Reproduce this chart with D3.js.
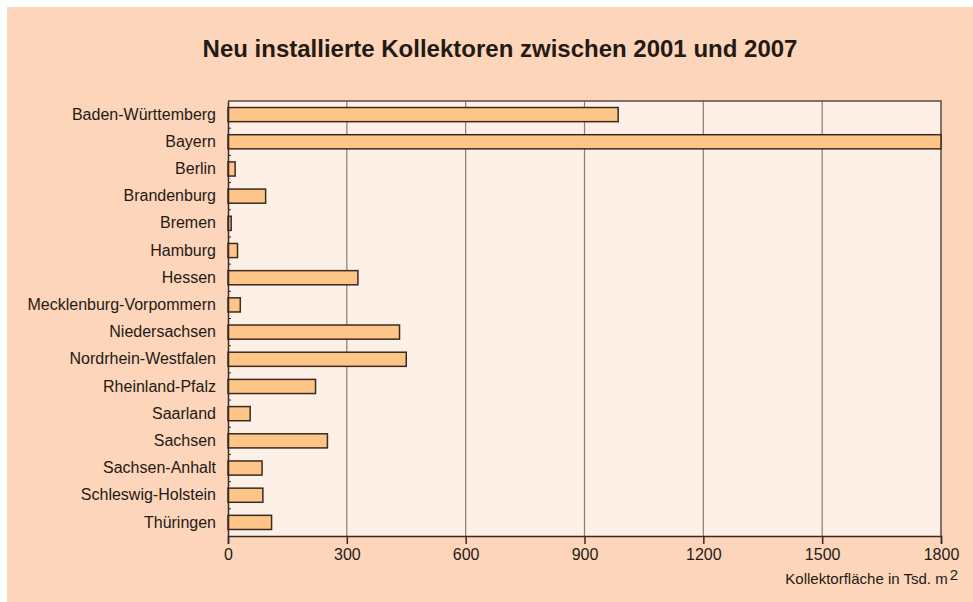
<!DOCTYPE html>
<html>
<head>
<meta charset="utf-8">
<script src="https://cdn.jsdelivr.net/npm/d3@7"></script>
<style>
  body { margin: 0; background: #fff; }
  svg { display: block; font-family: "Liberation Sans", Arial, sans-serif; }
</style>
</head>
<body>
<div id="chart"></div>
<script>
// Daten: neu installierte Kollektorfläche 2001-2007 (Tsd. m²)
const laender = ['Baden-Württemberg', 'Bayern', 'Berlin', 'Brandenburg', 'Bremen', 'Hamburg', 'Hessen',
  'Mecklenburg-Vorpommern', 'Niedersachsen', 'Nordrhein-Westfalen', 'Rheinland-Pfalz', 'Saarland',
  'Sachsen', 'Sachsen-Anhalt', 'Schleswig-Holstein', 'Thüringen'];
const flaeche = [985, 1800, 18, 95, 8, 24, 328, 31, 433, 450, 221, 56, 251, 86, 88, 110];
const xTicks = [0, 300, 600, 900, 1200, 1500, 1800];

const width = 973, height = 602;
const margin = { top: 101, right: 32, bottom: 66, left: 228 };
const w = width - margin.left - margin.right;
const h = height - margin.top - margin.bottom;
const font = '"Liberation Sans", Arial, sans-serif';

const svg = d3.select('#chart').append('svg').attr('width', width).attr('height', height);

// Hintergrund
svg.append('rect').attr('x', 7).attr('y', 7).attr('width', width - 7).attr('height', height - 7)
  .attr('fill', '#fdd5bb');

svg.append('text').attr('x', 500).attr('y', 57).attr('text-anchor', 'middle')
  .style('font-size', '24px').style('font-weight', 'bold').style('fill', '#231a14')
  .text('Neu installierte Kollektoren zwischen 2001 und 2007');

const g = svg.append('g').attr('transform', `translate(${margin.left},${margin.top})`);

const x = d3.scaleLinear().domain([0, 1800]).range([0, w]);
const y = d3.scaleBand().domain(laender).range([0, h]).paddingInner(0.48).paddingOuter(0.24);

g.append('rect').attr('width', w).attr('height', h).attr('fill', '#fdf0e6');

// Gitterlinien
g.selectAll('.grid').data(xTicks.slice(1, -1)).enter().append('line')
  .attr('x1', d => x(d)).attr('x2', d => x(d)).attr('y1', 0).attr('y2', h)
  .attr('stroke', '#8c7c72').attr('stroke-width', 1.2);

// Rahmen oben/rechts
g.append('path').attr('d', `M0,0H${w}V${h}`).attr('fill', 'none')
  .attr('stroke', '#5a4a42').attr('stroke-width', 1.5);

// Balken
g.selectAll('.bar').data(laender).enter().append('rect')
  .attr('x', 0).attr('y', d => y(d))
  .attr('width', (d, i) => x(Math.min(flaeche[i], 1800)))
  .attr('height', y.bandwidth())
  .attr('fill', '#fdc688').attr('stroke', '#3a2a22').attr('stroke-width', 1.5);

// x-Achse
const xAxis = g.append('g').attr('transform', `translate(0,${h})`)
  .call(d3.axisBottom(x).tickValues(xTicks).tickFormat(d3.format('d')).tickSize(8).tickPadding(5));
xAxis.select('.domain').attr('stroke', '#3a2a22').attr('stroke-width', 1.5);
xAxis.selectAll('.tick line').attr('stroke', '#3a2a22').attr('stroke-width', 1.5);
xAxis.selectAll('text').style('font-size', '16px').style('fill', '#231a14').style('font-family', font);

// y-Achse
const yAxis = g.append('g').call(d3.axisLeft(y).tickSize(0).tickPadding(12));
yAxis.select('.domain').attr('stroke', '#3a2a22').attr('stroke-width', 1.5);
yAxis.selectAll('text').style('font-size', '16px').style('fill', '#231a14').style('font-family', font);

// kleine Striche zwischen den Kategorien
g.selectAll('.ytick').data(laender.slice(1)).enter().append('line')
  .attr('x1', 0).attr('x2', 3)
  .attr('y1', d => y(d) - y.step() * y.paddingInner() / 2)
  .attr('y2', d => y(d) - y.step() * y.paddingInner() / 2)
  .attr('stroke', '#3a2a22').attr('stroke-width', 1);

// Achsentitel
const t = svg.append('text').attr('x', 958).attr('y', 584).attr('text-anchor', 'end')
  .style('font-size', '15px').style('fill', '#231a14');
t.append('tspan').text('Kollektorfläche in Tsd. m');
t.append('tspan').attr('dx', 2).attr('dy', -4).style('font-size', '15px').text('2');
</script>
</body>
</html>
